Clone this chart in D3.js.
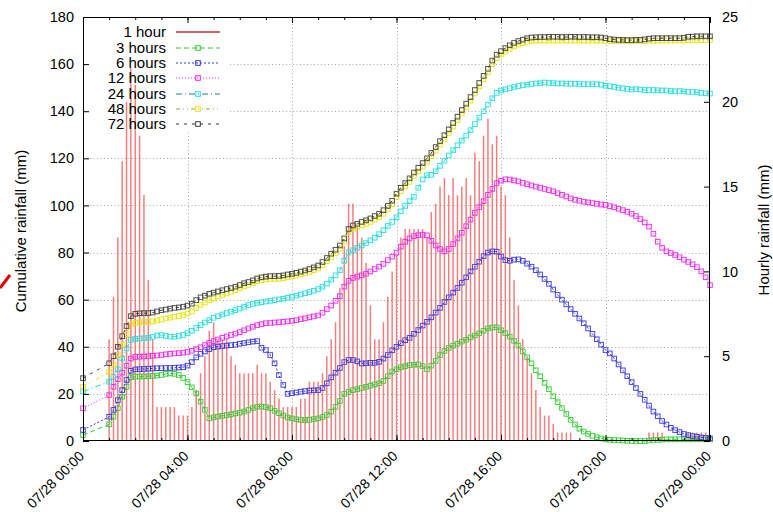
<!DOCTYPE html>
<html><head><meta charset="utf-8">
<script src="https://cdn.jsdelivr.net/npm/d3@7"></script>
<style>body{margin:0;background:#fff}svg{display:block}text{font-family:"Liberation Sans",Arial,sans-serif}</style>
</head><body><svg id="c" width="773" height="512"></svg>
<script>
// time of each sample, minutes after 07/28 00:00 (00:00, then every 10 min from 01:00)
const timeMinutes = [0].concat(d3.range(60, 1441, 10));

const hourly = [null,
 6.0, 8.5, 12.0, 16.5, 20.0, 22.0, 21.0,
 18.0, 14.5, 9.5, 6.0, 2.0, 2.0, 2.0, 2.0, 2.0, 1.5, 1.5,
 1.5, 2.0, 3.0, 4.0, 5.0, 6.5, 7.0, 6.0, 6.0, 6.0, 5.0, 4.5,
 4.0, 4.0, 4.0, 4.0, 4.5, 4.0, 4.0, 3.5, 3.0, 2.5, 2.0, 2.0,
 2.0, 2.0, 2.5, 2.5, 3.5, 3.5, 3.5, 4.0, 5.0, 6.0, 7.0, 9.0,
 11.5, 14.0, 14.0, 12.6, 12.0, 10.5, 8.0, 6.0, 6.0, 7.0, 8.5, 10.0,
 11.0, 12.0, 12.5, 12.5, 12.5, 12.5, 12.5, 12.0, 13.5, 14.0, 15.0, 15.5,
 14.5, 15.5, 14.5, 15.0, 15.5, 14.5, 17.0, 16.5, 18.0, 19.0, 17.5, 18.0,
 15.0, 14.5, 12.0, 9.5, 8.0, 6.0, 5.0, 4.0, 3.0, 2.0, 1.5, 1.5,
 1.0, 0.5, 0.5, 0.5, 0.5, 0, 0, 0, 0, 0, 0, 0,
 0, 0, 0, 0, 0, 0, 0, 0, 0, 0, 0.5, 0.5,
 0.5, 0.5, 0, 0, 0, 0, 0, 0.5, 0.5, 0.5, 0.5, 0.5, 0];

const rain3h = [2.5,
 7.1, 10.3, 13.9, 18.8, 23.0, 27.0, 27.3,
 27.4, 27.4, 27.5, 27.6, 27.8, 28.0, 28.5, 28.7, 28.5, 28.0, 26.8,
 25.0, 22.8, 20.2, 16.7, 13.2, 9.6, 10.0, 10.4, 10.7, 11.0, 11.3, 11.7,
 12.0, 12.5, 13.2, 14.0, 14.6, 14.6, 14.4, 13.9, 12.8, 11.8, 10.8, 10.0,
 9.6, 9.2, 8.9, 8.9, 9.0, 9.3, 9.6, 10.2, 11.0, 12.5, 14.5, 17.0,
 20.0, 20.8, 21.6, 22.0, 22.5, 23.0, 23.5, 24.0, 24.5, 25.5, 27.5, 29.5,
 30.5, 31.3, 31.8, 32.2, 32.4, 32.5, 31.8, 30.4, 32.0, 34.0, 36.5, 38.2,
 39.5, 40.5, 41.3, 42.2, 43.0, 44.0, 44.8, 45.7, 46.8, 47.8, 48.2, 48.3,
 47.0, 45.8, 44.3, 42.5, 40.5, 38.0, 35.5, 33.0, 30.0, 27.5, 24.7, 22.0,
 19.0, 16.5, 14.0, 11.5, 9.0, 7.0, 5.2, 4.0, 3.0, 2.2, 1.6, 1.1,
 0.7, 0.5, 0.4, 0.3, 0.2, 0.1, 0.0, 0.0, 0.0, 0.0, 0.2, 0.4,
 0.5, 0.6, 0.7, 0.7, 0.7, 0.7, 0.7, 0.7, 0.7, 0.7, 0.7, 0.7, 0.7];

const rain6h = [4.7,
 10.3, 13.2, 17.4, 21.6, 25.9, 29.8, 30.4,
 30.5, 30.6, 30.7, 30.8, 30.9, 30.9, 31.0, 31.0, 31.1, 31.2, 31.3,
 32.0, 33.5, 35.5, 37.0, 38.0, 39.0, 39.8, 40.1, 40.3, 40.5, 40.7, 40.9,
 41.3, 41.6, 41.9, 42.2, 42.4, 39.6, 38.6, 36.5, 33.0, 28.0, 23.8, 20.0,
 20.3, 20.6, 20.9, 21.2, 21.4, 21.5, 21.6, 22.5, 24.5, 27.0, 29.0, 31.0,
 33.5, 34.4, 34.4, 33.8, 32.9, 33.0, 33.2, 33.2, 33.6, 35.0, 36.5, 38.5,
 40.0, 41.5, 42.8, 43.8, 45.5, 47.1, 49.0, 50.6, 52.5, 54.5, 56.5, 59.0,
 61.0, 63.0, 65.0, 67.2, 69.5, 72.0, 74.0, 76.1, 78.5, 80.0, 80.5, 80.4,
 78.3, 76.8, 76.5, 77.0, 77.1, 76.5, 75.3, 74.0, 72.5, 70.7, 68.8, 66.7,
 64.3, 62.0, 60.0, 58.0, 56.0, 54.0, 52.0, 50.0, 47.8, 45.5, 43.2, 40.9,
 38.6, 37.2, 35.0, 32.5, 30.0, 27.5, 25.0, 22.5, 20.0, 17.5, 15.0, 12.5,
 10.5, 8.5, 7.0, 5.6, 4.6, 3.8, 3.0, 2.5, 2.1, 1.8, 1.5, 1.3, 1.1];

const rain12h = [13.9,
 19.5, 23.0, 26.2, 29.0, 32.0, 35.0, 35.7,
 35.8, 35.9, 36.0, 36.2, 36.3, 36.5, 36.8, 37.0, 37.2, 37.3, 37.5,
 37.8, 38.3, 39.0, 39.8, 40.7, 41.6, 42.4, 43.1, 43.8, 44.4, 45.0, 45.6,
 46.2, 47.0, 47.8, 48.5, 49.2, 49.6, 50.0, 50.1, 50.3, 50.4, 50.6, 50.8,
 51.0, 51.3, 51.7, 52.1, 52.5, 52.9, 53.3, 54.5, 56.0, 57.5, 59.5, 61.5,
 65.5, 68.0, 69.2, 69.8, 70.3, 71.0, 72.0, 73.0, 74.0, 75.2, 76.8, 78.3,
 80.0, 82.5, 84.6, 86.0, 87.0, 87.4, 87.6, 87.3, 85.0, 83.0, 81.5, 80.5,
 81.5, 83.6, 86.0, 88.4, 91.2, 94.0, 96.8, 99.3, 101.8, 104.5, 107.0, 109.5,
 110.5, 111.1, 111.0, 110.6, 110.2, 109.6, 109.0, 108.5, 108.0, 107.5, 107.0, 106.5,
 106.0, 105.2, 104.5, 103.8, 103.0, 102.4, 102.0, 101.6, 101.3, 101.0, 100.7, 100.4,
 100.2, 99.7, 99.2, 98.6, 98.0, 97.3, 96.5, 95.5, 94.2, 92.8, 91.0, 88.0,
 84.6, 82.0, 80.5, 79.8, 79.0, 78.0, 77.0, 76.0, 75.0, 73.8, 72.0, 69.5, 66.2];

const rain24h = [21.0,
 25.2, 27.3, 30.5, 35.0, 39.3, 42.9, 43.4,
 43.5, 43.6, 43.8, 44.2, 44.8, 45.0, 44.6, 44.3, 44.3, 44.6, 45.0,
 45.8, 46.8, 48.0, 49.2, 50.3, 51.3, 52.3, 53.0, 53.7, 54.3, 54.9, 55.5,
 56.2, 57.0, 57.7, 58.2, 58.6, 58.9, 59.2, 59.5, 59.8, 60.1, 60.4, 60.8,
 61.2, 61.7, 62.2, 62.7, 63.2, 63.8, 64.5, 65.5, 66.8, 68.5, 70.3, 72.5,
 76.5, 80.0, 81.0, 82.0, 83.0, 84.0, 85.2, 86.3, 87.8, 89.5, 91.3, 93.0,
 95.0, 97.5, 99.8, 101.8, 103.7, 107.5, 111.0, 112.8, 113.0, 114.5, 116.8, 119.0,
 121.2, 123.5, 125.5, 127.5, 129.7, 132.0, 134.5, 137.3, 140.0, 142.8, 145.5, 147.8,
 148.8, 149.3, 149.8, 150.3, 150.7, 151.0, 151.3, 151.6, 151.8, 151.9, 152.2, 152.0,
 151.9, 151.8, 151.8, 151.7, 151.7, 151.6, 151.6, 151.5, 151.5, 151.5, 151.5, 151.3,
 150.8, 150.6, 150.3, 150.0, 149.7, 149.5, 149.2, 149.4, 149.2, 149.0, 149.0, 149.0,
 148.9, 148.8, 148.8, 148.6, 148.4, 148.6, 148.4, 148.2, 148.2, 148.0, 147.8, 147.6, 147.5];

const rain48h = [23.0,
 29.2, 32.3, 36.5, 41.0, 45.3, 49.5, 50.2,
 50.4, 50.5, 50.6, 50.8, 51.2, 51.6, 52.0, 52.4, 52.8, 53.1, 53.5,
 54.2, 55.0, 56.5, 57.8, 58.8, 59.8, 60.5, 61.3, 62.0, 62.6, 63.3, 64.0,
 64.8, 65.6, 66.3, 67.0, 67.8, 68.3, 68.6, 68.8, 68.8, 68.9, 69.1, 69.5,
 69.8, 70.2, 70.7, 71.2, 71.8, 72.5, 73.2, 74.6, 76.3, 78.1, 79.8, 81.6,
 84.6, 88.5, 90.0, 90.7, 91.5, 92.2, 93.0, 94.0, 95.0, 96.5, 98.3, 100.5,
 103.5, 106.0, 108.0, 110.0, 112.5, 114.5, 116.5, 118.5, 120.8, 123.3, 125.8, 128.3,
 130.8, 133.5, 136.2, 139.0, 141.7, 144.5, 147.5, 150.5, 153.5, 156.5, 160.0, 162.5,
 164.0, 165.3, 166.5, 167.5, 168.3, 168.9, 169.5, 169.8, 169.9, 170.0, 170.0, 170.0,
 170.0, 170.0, 170.0, 170.0, 170.0, 170.0, 170.0, 170.0, 170.0, 170.0, 170.0, 170.0,
 169.9, 169.8, 169.8, 169.8, 169.8, 169.8, 169.8, 169.8, 169.8, 169.8, 169.9, 169.9,
 170.0, 170.0, 170.0, 170.0, 170.0, 170.0, 170.0, 170.1, 170.1, 170.2, 170.2, 170.2, 170.2];

const rain72h = [26.7,
 33.0, 36.0, 40.0, 44.5, 48.8, 53.0, 54.0,
 54.2, 54.3, 54.3, 54.5, 55.0, 55.5, 55.8, 56.2, 56.5, 56.7, 57.0,
 57.5, 58.3, 59.8, 61.0, 61.7, 62.5, 63.0, 63.5, 64.0, 64.5, 64.9, 65.5,
 66.2, 67.0, 67.5, 68.2, 69.0, 69.5, 69.8, 70.0, 70.0, 70.1, 70.3, 70.7,
 71.0, 71.4, 71.9, 72.4, 73.0, 73.7, 74.5, 76.0, 77.7, 79.5, 81.2, 83.0,
 86.0, 90.0, 91.5, 92.2, 93.0, 93.7, 94.5, 95.5, 96.5, 98.0, 99.8, 102.0,
 105.0, 107.5, 109.5, 111.5, 114.0, 116.0, 118.0, 120.0, 122.3, 124.8, 127.3, 129.8,
 132.3, 135.0, 137.7, 140.5, 143.2, 146.0, 149.0, 152.0, 155.0, 158.0, 161.5, 164.0,
 165.5, 166.8, 168.0, 169.0, 169.8, 170.4, 171.0, 171.3, 171.4, 171.5, 171.5, 171.6,
 171.6, 171.6, 171.5, 171.5, 171.6, 171.6, 171.5, 171.5, 171.5, 171.4, 171.4, 171.3,
 171.0, 170.6, 170.4, 170.3, 170.3, 170.2, 170.2, 170.3, 170.3, 170.5, 170.8, 171.0,
 171.0, 171.0, 171.0, 171.0, 171.0, 171.0, 171.2, 171.6, 171.7, 171.8, 171.8, 171.8, 171.8];

const seriesNames = ["1 hour", "3 hours", "6 hours", "12 hours", "24 hours", "48 hours", "72 hours"];
const xTickMinutes = [0, 240, 480, 720, 960, 1200, 1440];
const xTickLabels = ["07/28 00:00", "07/28 04:00", "07/28 08:00", "07/28 12:00", "07/28 16:00", "07/28 20:00", "07/29 00:00"];
const leftTicks = [0, 20, 40, 60, 80, 100, 120, 140, 160, 180];
const rightTicks = [0, 5, 10, 15, 20, 25];
const leftTitle = "Cumulative rainfall (mm)";
const rightTitle = "Hourly rainfall (mm)";

const cumSeries = [
  {name: seriesNames[1], values: rain3h,  color: "#30cc30", line: "#30cc30", dash: "5,3"},
  {name: seriesNames[2], values: rain6h,  color: "#3535dd", line: "#3535dd", dash: "2,2"},
  {name: seriesNames[3], values: rain12h, color: "#ee22ee", line: "#ee22ee", dash: "1,2"},
  {name: seriesNames[4], values: rain24h, color: "#22dddd", line: "#108888", dash: "6,3,1,3"},
  {name: seriesNames[5], values: rain48h, color: "#e4e400", line: "#a0a040", dash: "4,3,1,3,1,3"},
  {name: seriesNames[6], values: rain72h, color: "#404040", line: "#303030", dash: "3,5"}
];

const L = 83, R = 710, T = 17, B = 441;
const svg = d3.select("#c");
svg.append("rect").attr("width", 773).attr("height", 512).attr("fill", "#fff");

const x = d3.scaleLinear().domain([0, 1440]).range([L, R]);
const yL = d3.scaleLinear().domain([0, 180]).range([B, T]);
const yR = d3.scaleLinear().domain([0, 25]).range([B, T]);

// grid
const grid = svg.append("g").attr("stroke", "#a8a8a8").attr("stroke-width", 1).attr("stroke-dasharray", "1,2.5");
leftTicks.filter(v => v > 0 && v < 180).forEach(v => {
  grid.append("line").attr("x1", L).attr("x2", R).attr("y1", Math.round(yL(v)) + 0.5).attr("y2", Math.round(yL(v)) + 0.5);
});
xTickMinutes.filter(v => v > 0 && v < 1440).forEach(v => {
  grid.append("line").attr("y1", T).attr("y2", B).attr("x1", Math.round(x(v)) + 0.5).attr("x2", Math.round(x(v)) + 0.5);
});

// key background
svg.append("rect").attr("x", L + 1).attr("y", T + 1).attr("width", 145).attr("height", 114).attr("fill", "#fff");

// hourly impulses
const barData = timeMinutes.map((t, i) => ({t, v: hourly[i]})).filter(d => d.v !== null && d.v > 0);
svg.append("g").selectAll("line").data(barData).join("line")
  .attr("x1", d => x(d.t)).attr("x2", d => x(d.t))
  .attr("y1", yR(0)).attr("y2", d => yR(d.v))
  .attr("stroke", "#e83030").attr("stroke-opacity", 0.62).attr("stroke-width", 1.5);

// cumulative series
const lineGen = d3.line().x((d, i) => x(timeMinutes[i])).y(d => yL(d));
cumSeries.forEach(s => {
  const g = svg.append("g");
  g.append("path").datum(s.values).attr("d", lineGen).attr("fill", "none")
    .attr("stroke", s.color).attr("stroke-width", 1).attr("stroke-dasharray", s.dash);
  g.selectAll("rect").data(s.values).join("rect")
    .attr("x", (d, i) => x(timeMinutes[i]) - 2.3).attr("y", d => yL(d) - 2.3)
    .attr("width", 4.6).attr("height", 4.6).attr("fill", "none")
    .attr("stroke", s.color).attr("stroke-width", 1).attr("stroke-opacity", 0.9);
});

// border
svg.append("rect").attr("x", L + 0.5).attr("y", T + 0.5).attr("width", R - L - 1).attr("height", B - T - 1)
  .attr("fill", "none").attr("stroke", "#000").attr("stroke-width", 1);

const fontSize = 15, tickFont = 14;
// left axis
const axL = svg.append("g").attr("transform", `translate(${L},0)`)
  .call(d3.axisLeft(yL).tickValues(leftTicks).tickSize(-6).tickPadding(9));
// right axis
const axR = svg.append("g").attr("transform", `translate(${R},0)`)
  .call(d3.axisRight(yR).tickValues(rightTicks).tickSize(-6).tickPadding(12));
// bottom / top ticks
const hours = d3.range(0, 1441, 60);
const axB = svg.append("g").attr("transform", `translate(0,${B})`)
  .call(d3.axisBottom(x).tickValues(xTickMinutes).tickSize(-6).tickFormat(""));
const axBm = svg.append("g").attr("transform", `translate(0,${B})`)
  .call(d3.axisBottom(x).tickValues(hours).tickSize(-3).tickFormat(""));
const axT = svg.append("g").attr("transform", `translate(0,${T})`)
  .call(d3.axisTop(x).tickValues(xTickMinutes).tickSize(-6).tickFormat(""));
const axTm = svg.append("g").attr("transform", `translate(0,${T})`)
  .call(d3.axisTop(x).tickValues(hours).tickSize(-3).tickFormat(""));
[axL, axR, axB, axBm, axT, axTm].forEach(a => {
  a.select(".domain").remove();
  a.selectAll("line").attr("stroke", "#000");
  a.selectAll("text").attr("font-size", tickFont + 0.5).attr("fill", "#000")
    .attr("font-family", '"Liberation Sans", Arial, sans-serif');
});

// x tick labels, rotated
svg.append("g").selectAll("text").data(xTickMinutes).join("text")
  .attr("transform", d => `translate(${x(d) + 2},${B + 16}) rotate(-45)`)
  .attr("text-anchor", "end").attr("font-size", tickFont).attr("fill", "#000")
  .text((d, i) => xTickLabels[i]);

// axis titles
svg.append("text").attr("transform", `translate(26,231) rotate(-90)`)
  .attr("text-anchor", "middle").attr("font-size", fontSize).text(leftTitle);
svg.append("text").attr("transform", `translate(769,230) rotate(-90)`)
  .attr("text-anchor", "middle").attr("font-size", fontSize).text(rightTitle);

// key
const key = svg.append("g");
const keyY = [32, 48, 63, 78, 94, 109, 124];
seriesNames.forEach((n, i) => {
  key.append("text").attr("x", 166).attr("y", keyY[i]).attr("dy", "0.36em")
    .attr("text-anchor", "end").attr("font-size", fontSize).text(n);
});
key.append("line").attr("x1", 176).attr("x2", 220).attr("y1", keyY[0]).attr("y2", keyY[0])
  .attr("stroke", "#c03030").attr("stroke-width", 1.3);
cumSeries.forEach((s, i) => {
  const yy = keyY[i + 1];
  key.append("line").attr("x1", 176).attr("x2", 220).attr("y1", yy).attr("y2", yy)
    .attr("stroke", s.line).attr("stroke-width", 1).attr("stroke-dasharray", s.dash);
  key.append("rect").attr("x", 198 - 2.3).attr("y", yy - 2.3).attr("width", 4.6).attr("height", 4.6)
    .attr("fill", "none").attr("stroke", s.color).attr("stroke-width", 1);
});

// stray red mark at the left edge of the source image
svg.append("line").attr("x1", 0).attr("y1", 288).attr("x2", 10).attr("y2", 275)
  .attr("stroke", "#e00000").attr("stroke-width", 3);
</script></body></html>
